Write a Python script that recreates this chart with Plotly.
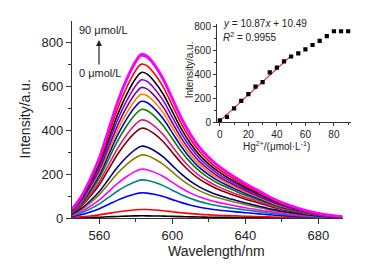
import plotly.graph_objects as go

# ---- data ----
wavelength = [545, 550, 555, 560, 565, 570, 575, 580, 583, 586, 590, 595, 600, 605, 610,
              615, 620, 625, 630, 635, 640, 645, 650, 655, 660, 665, 670, 675, 680, 685, 690, 693]
profile = [0.055, 0.13, 0.24, 0.37, 0.54, 0.71, 0.85, 0.96, 1.0, 0.99, 0.94, 0.85, 0.73, 0.61, 0.51,
           0.43, 0.37, 0.32, 0.28, 0.245, 0.21, 0.18, 0.15, 0.12, 0.095, 0.075, 0.056, 0.041, 0.029, 0.019, 0.012, 0.009]
conc = [0, 5, 10, 15, 20, 25, 30, 35, 40, 45, 50, 55, 60, 65, 70, 75, 80, 85, 90]
peak = [10, 39, 115, 174, 223, 288, 328, 410, 448, 496, 533, 565, 596, 631, 665, 703, 741, 744, 748]
colors = ["#000000", "#FF0000", "#0000FF", "#008080", "#FF00FF", "#808000", "#000080", "#800000",
          "#E8177F", "#008000", "#0000CC", "#FF8000", "#800080", "#8000FF", "#000000", "#FF0000",
          "#8000FF", "#FF00FF", "#FF00FF"]
inset_y = [14, 44, 115, 178, 233, 296, 334, 416, 455, 507, 548, 575, 608, 644, 679, 718, 759, 759, 759]
fit_x = [0, 50]
slope, intercept = 10.87, 10.49

fig = go.Figure()
for i, (c, p, col) in enumerate(zip(conc, peak, colors)):
    w = 2.6 if i == len(conc) - 1 else 1.6
    fig.add_trace(go.Scatter(x=wavelength, y=[p * v for v in profile], mode="lines",
                             line=dict(color=col, width=w, shape="spline"),
                             showlegend=False, xaxis="x", yaxis="y"))

fig.add_trace(go.Scatter(x=fit_x, y=[slope * v + intercept for v in fit_x], mode="lines",
                         line=dict(color="#E8343C", width=1.2), showlegend=False,
                         xaxis="x2", yaxis="y2"))
fig.add_trace(go.Scatter(x=conc, y=inset_y, mode="markers",
                         marker=dict(symbol="square", size=4.2, color="#000000"),
                         showlegend=False, xaxis="x2", yaxis="y2"))

font = "Liberation Sans, Arial, sans-serif"
axcol = "#333333"
# the page body adds an 8px offset, so the figure is 8px smaller and margins shifted
fig.update_layout(
    width=367, height=256,
    margin=dict(l=64, r=22, t=10, b=46),
    paper_bgcolor="white", plot_bgcolor="white",
    font=dict(family=font, color="#222222"),
    xaxis=dict(domain=[0, 0.9644], range=[545, 693.5], tickvals=[560, 600, 640, 680],
               showline=True, linecolor=axcol, linewidth=1.3, ticks="outside", ticklen=5,
               tickcolor=axcol, tickwidth=1.2, showgrid=False, zeroline=False,
               tickfont=dict(size=13),
               minor=dict(tickvals=[580, 620, 660], ticks="outside", ticklen=3, tickcolor=axcol, showgrid=False)),
    yaxis=dict(domain=[0, 1], range=[0, 900], tickvals=[0, 200, 400, 600, 800],
               showline=True, linecolor=axcol, linewidth=1.3, ticks="outside", ticklen=5,
               tickcolor=axcol, tickwidth=1.2, showgrid=False, zeroline=False,
               tickfont=dict(size=13),
               minor=dict(tickvals=[100, 300, 500, 700], ticks="outside", ticklen=3, tickcolor=axcol, showgrid=False)),
    xaxis2=dict(domain=[0.516, 0.993], range=[-2, 92], anchor="y2", tickvals=[0, 20, 40, 60, 80],
                showline=True, linecolor=axcol, linewidth=1, ticks="outside", ticklen=3,
                tickcolor=axcol, showgrid=False, zeroline=False, tickfont=dict(size=10),
                minor=dict(tickvals=[10, 30, 50, 70, 90], ticks="outside", ticklen=2, tickcolor=axcol, showgrid=False)),
    yaxis2=dict(domain=[0.485, 0.985], range=[-3, 820], anchor="x2", tickvals=[0, 200, 400, 600, 800],
                showline=True, linecolor=axcol, linewidth=1, ticks="outside", ticklen=3,
                tickcolor=axcol, showgrid=False, zeroline=False, tickfont=dict(size=10),
                minor=dict(tickvals=[100, 300, 500, 700], ticks="outside", ticklen=2, tickcolor=axcol, showgrid=False)),
)

ann = []
ann.append(dict(text="Wavelength/nm", xref="paper", yref="paper", x=(216 - 72) / 281, y=(218 - 251) / 200,
                showarrow=False, font=dict(size=14), xanchor="center", yanchor="middle"))
ann.append(dict(text="Intensity/a.u.", xref="paper", yref="paper", x=(24 - 72) / 281, y=0.5,
                showarrow=False, font=dict(size=14), textangle=-90, xanchor="center", yanchor="middle"))
ann.append(dict(text="Intensity/a.u.", xref="paper", yref="paper", x=(189 - 72) / 281, y=(218 - 68) / 200,
                showarrow=False, font=dict(size=10), textangle=-90, xanchor="center", yanchor="middle"))
ann.append(dict(text="Hg<sup>2+</sup>/(μmol·L<sup>-1</sup>)", xref="paper", yref="paper",
                x=(276 - 72) / 281, y=(218 - 145) / 200,
                showarrow=False, font=dict(size=10), xanchor="center", yanchor="middle"))
ann.append(dict(text="<i>y</i> = 10.87<i>x</i> + 10.49", xref="paper", yref="paper",
                x=(221 - 72) / 281, y=(218 - 20.7) / 200,
                showarrow=False, font=dict(size=10), xanchor="left", yanchor="middle"))
ann.append(dict(text="<i>R</i><sup>2</sup> = 0.9955", xref="paper", yref="paper",
                x=(221 - 72) / 281, y=(218 - 34.3) / 200,
                showarrow=False, font=dict(size=10), xanchor="left", yanchor="middle"))
ann.append(dict(text="90 μmol/L", xref="x", yref="y", x=548.0, y=860,
                showarrow=False, font=dict(size=11), xanchor="left", yanchor="middle"))
ann.append(dict(text="0 μmol/L", xref="x", yref="y", x=548.0, y=661,
                showarrow=False, font=dict(size=11), xanchor="left", yanchor="middle"))
ann.append(dict(text="", xref="x", yref="y", x=559.8, y=813, ax=0, ay=26,
                showarrow=True, arrowhead=2, arrowsize=1, arrowwidth=1.2, arrowcolor="#222222"))
fig.update_layout(annotations=ann)

fig.write_html("out.html")
